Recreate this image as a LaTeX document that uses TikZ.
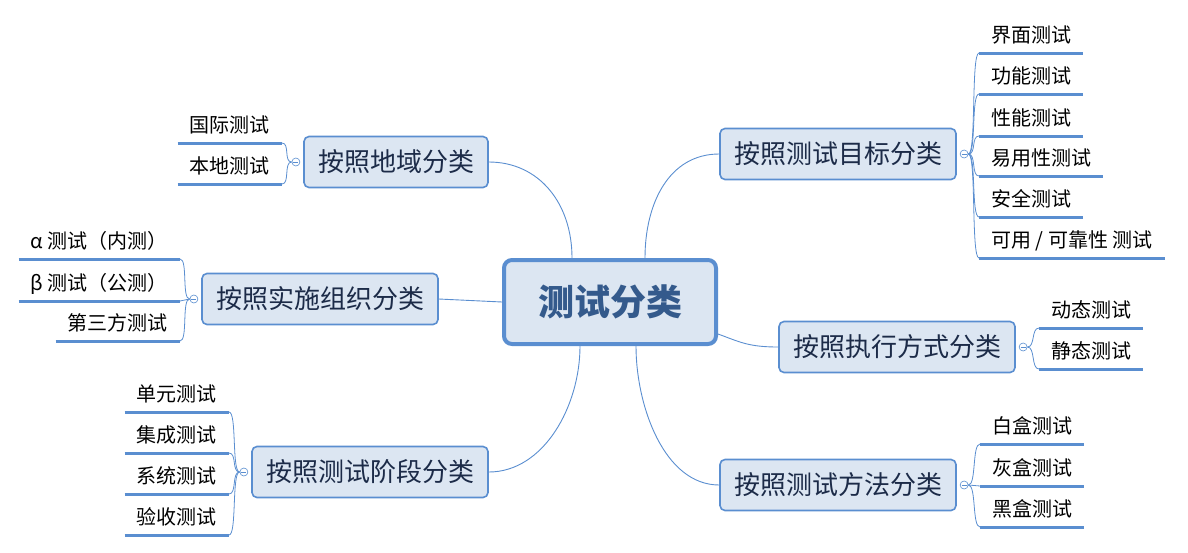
\documentclass[tikz,border=0pt]{standalone}
\usepackage{fontspec}
\setmainfont{Noto Sans CJK SC}
\usepackage{tikz}
\usetikzlibrary{positioning}
\definecolor{mmblue}{HTML}{5A8ED0}
\definecolor{mmfill}{HTML}{DCE6F2}
\definecolor{mmtext}{HTML}{1C2B48}
\definecolor{mmroot}{HTML}{345A8C}
\newcommand{\leaffont}{\fontsize{20}{24}\selectfont}
\newcommand{\subfont}{\fontsize{26}{30}\selectfont}
\newcommand{\rootfont}{\fontsize{36}{40}\selectfont\bfseries}

\begin{document}
\begin{tikzpicture}[x=1pt, y=1pt,
  root/.style={draw=mmblue, line width=4pt, rounded corners=8pt, fill=mmfill, minimum width=212pt, minimum height=84pt, font=\rootfont, text=mmroot},
  cat/.style={draw=mmblue, line width=1.6pt, rounded corners=5pt, fill=mmfill, minimum height=51pt, inner xsep=14pt, font=\subfont, text=mmtext},
  fold/.style={circle, draw=mmblue, fill=white, line width=0.6pt, minimum size=8pt, inner sep=0pt,
    path picture={\draw[mmblue, line width=0.6pt] ([xshift=-2.5pt]path picture bounding box.center) -- ([xshift=2.5pt]path picture bounding box.center);}},
  leafline/.style={draw=mmblue, line width=3pt},
  leaf/.style={font=\leaffont, inner xsep=12pt, inner ysep=3pt, text height=15pt, text depth=7pt,
    append after command={(\tikzlastnode.south west) edge[leafline] (\tikzlastnode.south east)}},
  leafr/.style={leaf, anchor=south west},
  leafl/.style={leaf, anchor=south east},
  link/.style={draw=mmblue, line width=0.9pt},
  twig/.style={draw=mmblue, line width=0.8pt}
]
  \useasboundingbox (0,0) rectangle (1188,-552);

  % root and categories
  \node[root] (root) at (610,-302) {测试分类};
  \node[cat] (geo) at (396,-162) {按照地域分类};
  \node[cat] (org) at (320,-299) {按照实施组织分类};
  \node[cat] (stage) at (370,-472) {按照测试阶段分类};
  \node[cat] (goal) at (838,-154) {按照测试目标分类};
  \node[cat] (exec) at (897,-347) {按照执行方式分类};
  \node[cat] (meth) at (838,-485) {按照测试方法分类};

  \draw[link] ([xshift=-38pt]root.north) .. controls +(0,55) and +(50,0) .. (geo.east);
  \draw[link] (root.west) -- (org.east);
  \draw[link] ([xshift=-30pt]root.south) .. controls +(0,-60) and +(55,0) .. (stage.east);
  \draw[link] ([xshift=35pt]root.north) .. controls +(0,55) and +(-50,0) .. (goal.west);
  \draw[link] ([yshift=-32pt]root.east) .. controls +(22,-8) and +(-30,0) .. (exec.west);
  \draw[link] ([xshift=26pt]root.south) .. controls +(0,-60) and +(-55,0) .. (meth.west);

  % fold markers
  \node[fold, left=3pt of geo] (geofold) {};
  \node[fold, left=3pt of org] (orgfold) {};
  \node[fold, left=3pt of stage] (stagefold) {};
  \node[fold, right=3pt of goal] (goalfold) {};
  \node[fold, right=3pt of exec] (execfold) {};
  \node[fold, right=3pt of meth] (methfold) {};

  % leaves, left side
  \node[leafl] (geo1) at (282,-143) {国际测试};
  \node[leafl] (geo2) at (282,-184) {本地测试};
  \node[leafl] (org1) at (180,-259) {α 测试（内测）};
  \node[leafl] (org2) at (180,-301) {β 测试（公测）};
  \node[leafl] (org3) at (180,-341) {第三方测试};
  \node[leafl] (stage1) at (229,-412) {单元测试};
  \node[leafl] (stage2) at (229,-453) {集成测试};
  \node[leafl] (stage3) at (229,-494) {系统测试};
  \node[leafl] (stage4) at (229,-535) {验收测试};

  % leaves, right side
  \node[leafr] (goal1) at (979,-53) {界面测试};
  \node[leafr] (goal2) at (979,-94) {功能测试};
  \node[leafr] (goal3) at (979,-136) {性能测试};
  \node[leafr] (goal4) at (979,-176) {易用性测试};
  \node[leafr] (goal5) at (979,-217) {安全测试};
  \node[leafr] (goal6) at (979,-258) {可用 / 可靠性 测试};
  \node[leafr] (exec1) at (1039,-328) {动态测试};
  \node[leafr] (exec2) at (1039,-369) {静态测试};
  \node[leafr] (meth1) at (980,-444) {白盒测试};
  \node[leafr] (meth2) at (980,-486) {灰盒测试};
  \node[leafr] (meth3) at (980,-527) {黑盒测试};

  % twigs
  \draw[twig] (geofold.west) .. controls +(-8,0) and +(8,0) .. (geo1.south east);
  \draw[twig] (geofold.west) .. controls +(-8,0) and +(8,0) .. (geo2.south east);
  \draw[twig] (orgfold.west) .. controls +(-8,0) and +(8,0) .. (org1.south east);
  \draw[twig] (orgfold.west) -- (org2.south east);
  \draw[twig] (orgfold.west) .. controls +(-8,0) and +(8,0) .. (org3.south east);
  \draw[twig] (stagefold.west) .. controls +(-8,0) and +(8,0) .. (stage1.south east);
  \draw[twig] (stagefold.west) .. controls +(-8,0) and +(8,0) .. (stage2.south east);
  \draw[twig] (stagefold.west) .. controls +(-8,0) and +(8,0) .. (stage3.south east);
  \draw[twig] (stagefold.west) .. controls +(-8,0) and +(8,0) .. (stage4.south east);
  \draw[twig] (goalfold.east) .. controls +(8,0) and +(-8,0) .. (goal1.south west);
  \draw[twig] (goalfold.east) .. controls +(8,0) and +(-8,0) .. (goal2.south west);
  \draw[twig] (goalfold.east) .. controls +(8,0) and +(-8,0) .. (goal3.south west);
  \draw[twig] (goalfold.east) .. controls +(8,0) and +(-8,0) .. (goal4.south west);
  \draw[twig] (goalfold.east) .. controls +(8,0) and +(-8,0) .. (goal5.south west);
  \draw[twig] (goalfold.east) .. controls +(8,0) and +(-8,0) .. (goal6.south west);
  \draw[twig] (execfold.east) .. controls +(8,0) and +(-8,0) .. (exec1.south west);
  \draw[twig] (execfold.east) .. controls +(8,0) and +(-8,0) .. (exec2.south west);
  \draw[twig] (methfold.east) .. controls +(8,0) and +(-8,0) .. (meth1.south west);
  \draw[twig] (methfold.east) -- (meth2.south west);
  \draw[twig] (methfold.east) .. controls +(8,0) and +(-8,0) .. (meth3.south west);
\end{tikzpicture}
\end{document}
